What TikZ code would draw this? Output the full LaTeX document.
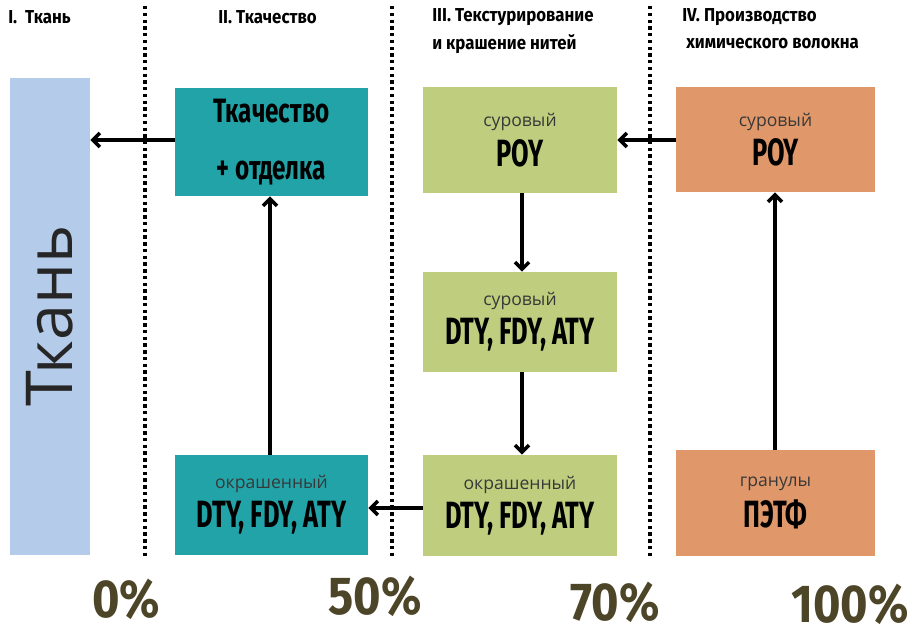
\documentclass[tikz,border=0pt]{standalone}
\usepackage{fontspec}
\usepackage{xcolor}
\usepackage{tikz}
\usetikzlibrary{arrows.meta}
\setmainfont{Open Sans}
\newfontfamily\headfont[FakeStretch=0.9]{Fira Sans}
\newfontfamily\bigfont[FakeStretch=0.67]{Fira Sans}
\newfontfamily\tissfont[FakeStretch=0.72]{Fira Sans}
\newfontfamily\pctfont[FakeStretch=0.88]{Fira Sans}
\definecolor{tissu}{RGB}{180,203,233}
\definecolor{sarcelle}{RGB}{34,163,168}
\definecolor{vert}{RGB}{190,206,126}
\definecolor{orange}{RGB}{224,152,106}
\definecolor{olive}{RGB}{77,69,40}
\newcommand{\petit}[1]{{\fontsize{12.5}{15}\selectfont\color{black!78}#1}}
\newcommand{\gros}[1]{{\bigfont\bfseries\fontsize{27}{30}\selectfont #1}}
\newcommand{\grosT}[1]{{\tissfont\bfseries\fontsize{24}{28}\selectfont #1}}
\tikzstyle{boite} = [rectangle, inner sep=0pt, align=center, text centered]
\tikzstyle{entete} = [anchor=west, inner sep=0pt, font=\headfont\bfseries\fontsize{13.3}{15}\selectfont]
\tikzstyle{pourcent} = [inner sep=0pt, anchor=base, text=olive, font=\pctfont\bfseries\fontsize{38}{40}\selectfont]
\tikzstyle{fleche} = [-{Straight Barb[length=5pt,width=10pt]}, line width=2.5pt, black]
\tikzstyle{separation} = [line width=2.6pt, dash pattern=on 2.4pt off 2.4pt]

\begin{document}
\begin{tikzpicture}[x=0.025cm, y=-0.025cm]
    \fill[white] (0,0) rectangle (912,626);
    \useasboundingbox (0,0) rectangle (912,626);

    %% séparations
    \draw[separation] (145,6) -- (145,556);
    \draw[separation] (392,6) -- (392,556);
    \draw[separation] (650,6) -- (650,556);

    %% en-têtes
    \node (h1) [entete] at (8,17) {I.\ \ Ткань};
    \node (h2) [entete] at (218,17) {II. Ткачество};
    \node (h3) [entete] at (432,17) {III. Текстурирование};
    \node (h3b) [entete] at (432,44) {и крашение нитей};
    \node (h4) [entete] at (682,17) {IV. Производство};
    \node (h4b) [entete] at (686,44) {химического волокна};

    %% tissu
    \node (tissu) [boite, fill=tissu, minimum width=2cm, minimum height=11.93cm] at (50,316.5) {};
    \node (mot) [rotate=90, inner sep=0pt, font=\fontsize{46}{50}\selectfont, text=black!85] at (50,316) {Ткань};

    %% tissage
    \node (tissage) [boite, fill=sarcelle, minimum width=4.83cm, minimum height=2.7cm] at (271.5,142) {\grosT{Ткачество}\\[26pt]\grosT{+ отделка}};
    \node (teintT) [boite, fill=sarcelle, minimum width=4.83cm, minimum height=2.5cm] at (271.5,505) {\petit{окрашенный}\\[5pt]\gros{DTY, FDY, ATY}};

    %% texturation
    \node (poyV) [boite, fill=vert, minimum width=4.85cm, minimum height=2.65cm] at (520,140) {\petit{суровый}\\[5pt]\gros{POY}};
    \node (brut) [boite, fill=vert, minimum width=4.85cm, minimum height=2.5cm] at (520,322) {\petit{суровый}\\[5pt]\gros{DTY, FDY, ATY}};
    \node (teintV) [boite, fill=vert, minimum width=4.85cm, minimum height=2.53cm] at (520,505.5) {\petit{окрашенный}\\[5pt]\gros{DTY, FDY, ATY}};

    %% fibre chimique
    \node (poyO) [boite, fill=orange, minimum width=4.98cm, minimum height=2.63cm] at (775.5,139.5) {\petit{суровый}\\[5pt]\gros{POY}};
    \node (pet) [boite, fill=orange, minimum width=4.98cm, minimum height=2.65cm] at (775.5,503) {\petit{гранулы}\\[5pt]\gros{ПЭТФ}};

    %% flèches
    \draw[fleche] (tissage.west |- 0,140) -- (tissu.east |- 0,140);
    \draw[fleche] (teintT.north -| 270,0) -- (tissage.south -| 270,0);
    \draw[fleche] (poyV.south -| 522,0) -- (brut.north -| 522,0);
    \draw[fleche] (brut.south -| 522,0) -- (teintV.north -| 522,0);
    \draw[fleche] (teintV.west |- 0,508) -- (teintT.east |- 0,508);
    \draw[fleche] (poyO.west |- 0,140) -- (poyV.east |- 0,140);
    \draw[fleche] (pet.north -| 775,0) -- (poyO.south -| 775,0);

    %% pourcentages
    \node (p0) [pourcent] at (126,617) {0\%};
    \node (p50) [pourcent] at (375,614) {50\%};
    \node (p70) [pourcent] at (615,620) {70\%};
    \node (p100) [pourcent] at (850,622) {100\%};
\end{tikzpicture}
\end{document}
